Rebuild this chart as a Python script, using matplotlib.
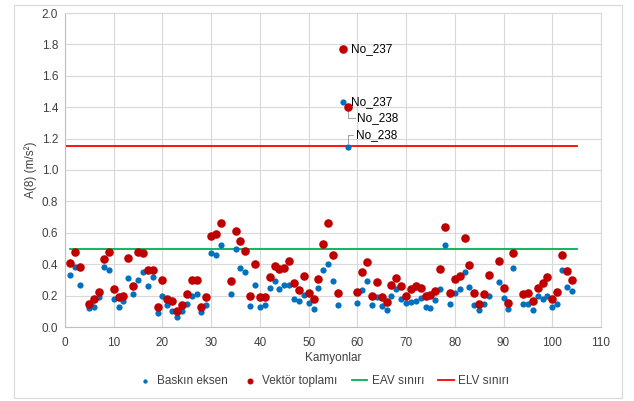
import numpy as np
import matplotlib.pyplot as plt
from matplotlib.patches import Rectangle

plt.rcParams['font.family'] = ['Liberation Sans', 'DejaVu Sans']

trucks = [1, 2, 3, 5, 6, 7, 8, 9, 10, 11, 12, 13, 14, 15, 16, 17, 18, 19, 20,
          21, 22, 23, 24, 25, 26, 27, 28, 29, 30, 31, 32, 34, 35, 36, 37, 38, 39, 40,
          41, 42, 43, 44, 45, 46, 47, 48, 49, 50, 51, 52, 53, 54, 55, 56, 57, 58, 60,
          61, 62, 63, 64, 65, 66, 67, 68, 69, 70, 71, 72, 73, 74, 75, 76, 77, 78, 79, 80,
          81, 82, 83, 84, 85, 86, 87, 89, 90, 91, 92, 94, 95, 96, 97, 98, 99, 100,
          101, 102, 103, 104]

baskin = [0.33, 0.38, 0.27, 0.12, 0.13, 0.19, 0.38, 0.365, 0.18, 0.125, 0.165, 0.31, 0.21, 0.30, 0.35, 0.26, 0.32, 0.09, 0.20,
          0.14, 0.10, 0.066, 0.10, 0.145, 0.20, 0.21, 0.094, 0.14, 0.47, 0.46, 0.52, 0.21, 0.50, 0.375, 0.35, 0.136, 0.27, 0.127,
          0.14, 0.25, 0.29, 0.245, 0.265, 0.265, 0.176, 0.164, 0.206, 0.155, 0.117, 0.248, 0.363, 0.40, 0.29, 0.142, 1.43, 1.145, 0.15,
          0.235, 0.293, 0.138, 0.19, 0.134, 0.108, 0.20, 0.242, 0.178, 0.15, 0.157, 0.164, 0.183, 0.13, 0.123, 0.172, 0.24, 0.524, 0.146, 0.217,
          0.24, 0.352, 0.255, 0.14, 0.108, 0.145, 0.20, 0.287, 0.185, 0.115, 0.378, 0.145, 0.146, 0.106, 0.197, 0.18, 0.20, 0.125,
          0.145, 0.363, 0.257, 0.23]

vektor = [0.41, 0.48, 0.38, 0.145, 0.18, 0.22, 0.43, 0.48, 0.24, 0.19, 0.20, 0.44, 0.26, 0.48, 0.47, 0.36, 0.36, 0.13, 0.30,
          0.18, 0.165, 0.10, 0.14, 0.21, 0.30, 0.30, 0.13, 0.19, 0.58, 0.59, 0.66, 0.29, 0.61, 0.545, 0.486, 0.195, 0.40, 0.19,
          0.19, 0.317, 0.39, 0.37, 0.376, 0.42, 0.28, 0.235, 0.327, 0.214, 0.176, 0.306, 0.53, 0.66, 0.46, 0.214, 1.77, 1.40, 0.22,
          0.35, 0.416, 0.197, 0.285, 0.19, 0.157, 0.27, 0.314, 0.263, 0.20, 0.24, 0.26, 0.246, 0.20, 0.206, 0.227, 0.367, 0.64, 0.217, 0.308,
          0.327, 0.565, 0.397, 0.218, 0.145, 0.208, 0.33, 0.418, 0.246, 0.153, 0.47, 0.212, 0.217, 0.168, 0.25, 0.278, 0.316, 0.18,
          0.223, 0.46, 0.357, 0.30]

eav_x = [1, 105]
eav = [0.5, 0.5]
elv_x = [0, 105]
elv = [1.15, 1.15]

fig = plt.figure(figsize=(6.34, 4.01), dpi=100)
ax = fig.add_axes([65 / 634, 1 - 327 / 401, 536 / 634, 314 / 401])

fig.patches.append(Rectangle((14 / 634, 3 / 401), 608 / 634, 393 / 401, transform=fig.transFigure,
                             fill=False, edgecolor='#d9d9d9', linewidth=0.8))

ax.scatter(trucks, baskin, s=20, color='#0070C0', zorder=3, label='Baskın eksen', linewidths=0)
ax.scatter(trucks, vektor, s=38, color='#C00000', zorder=4, label='Vektör toplamı', linewidths=0)
ax.plot(eav_x, eav, color='#00B050', lw=1.3, label='EAV sınırı', zorder=2)
ax.plot(elv_x, elv, color='#FF0000', lw=1.3, label='ELV sınırı', zorder=2)

# labels for the outliers
i57 = trucks.index(57)
i58 = trucks.index(58)
ax.annotate('No_237', (57, vektor[i57]), xytext=(6, 0), textcoords='offset points',
            ha='left', va='center', fontsize=8.5)
ax.annotate('No_237', (57, baskin[i57]), xytext=(6, 0), textcoords='offset points',
            ha='left', va='center', fontsize=8.5, zorder=5)
lead = dict(arrowstyle='-', color='#a6a6a6', lw=0.8, shrinkA=0, shrinkB=3, relpos=(0, 0.5),
            connectionstyle='angle,angleA=0,angleB=90,rad=0')
ax.annotate('No_238', (58, vektor[i58]), xytext=(7, -8), textcoords='offset points',
            ha='left', va='center', fontsize=8.5, arrowprops=lead)
ax.annotate('No_238', (58, baskin[i58]), xytext=(6, 9), textcoords='offset points',
            ha='left', va='center', fontsize=8.5, arrowprops=lead)

ax.set_xlim(0, 110)
ax.set_ylim(0, 2.0)
ax.set_xticks(np.arange(0, 111, 10))
ax.set_yticks(np.arange(0, 2.01, 0.2))
ax.set_yticklabels(['%.1f' % v for v in np.arange(0, 2.01, 0.2)])
ax.grid(True, color='#d9d9d9', lw=0.8)
ax.set_axisbelow(True)
for side in ['top', 'right']:
    ax.spines[side].set_color('#d9d9d9')
for side in ['left', 'bottom']:
    ax.spines[side].set_color('#bfbfbf')
ax.tick_params(length=0, labelsize=8.5, colors='#404040', pad=5)
ax.tick_params(axis='x', pad=7)
ax.set_xlabel('Kamyonlar', fontsize=8.5, color='#404040', labelpad=2)
ax.set_ylabel('A(8) (m/s²)', fontsize=8.5, color='#404040', labelpad=3)

fig.legend(loc='center', bbox_to_anchor=(0.51, 0.05), ncol=4, frameon=False, fontsize=8.5,
           handlelength=1.3, handletextpad=0.4, columnspacing=1.2, markerscale=0.7,
           labelcolor='#404040')

fig.savefig('out.png', dpi=100)
